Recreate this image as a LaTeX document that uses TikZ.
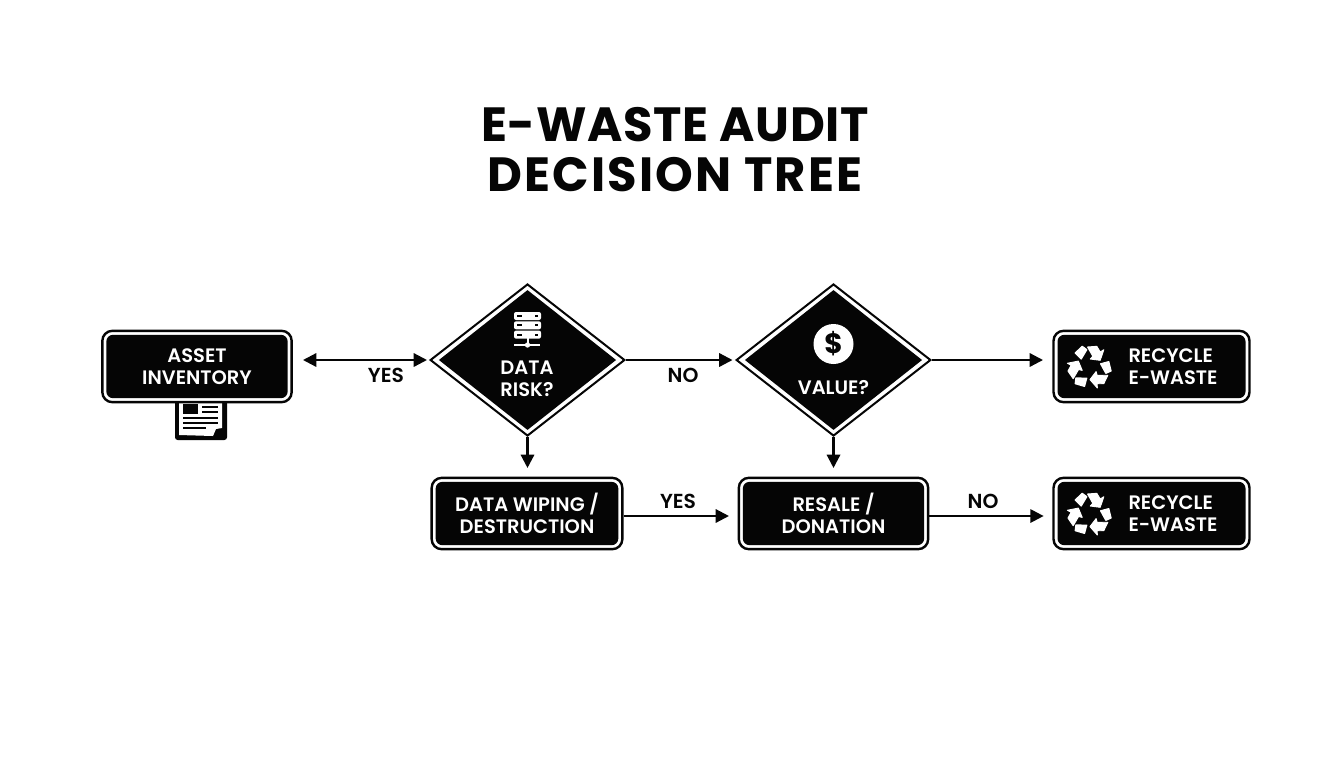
\documentclass[tikz,border=0pt]{standalone}
\usepackage{fontspec}
\setmainfont{Poppins}[BoldFont={Poppins SemiBold}]
\newfontfamily\titlefont{Poppins}[BoldFont={Poppins Bold}]
\usetikzlibrary{shapes.geometric,arrows.meta}
\definecolor{ink}{HTML}{050505}
\tikzset{x=0.75pt,y=-0.75pt,
  boxouter/.style={rectangle,rounded corners=7.5pt,draw=ink,fill=white,line width=1.8pt,minimum width=#1,minimum height=53.5pt,inner sep=0pt},
  boxinner/.style={rectangle,rounded corners=5pt,fill=ink,text=white,minimum width=#1,minimum height=47.5pt,inner sep=0pt,align=center,font=\fontsize{14.6}{16.5}\selectfont\bfseries},
  dmouter/.style={diamond,draw=ink,fill=white,line width=1.5pt,minimum width=146pt,minimum height=114pt,inner sep=0pt,aspect=1.28},
  dminner/.style={diamond,fill=ink,minimum width=133pt,minimum height=105pt,inner sep=0pt,aspect=1.28},
  dmtext/.style={text=white,align=center,font=\fontsize{14.6}{16.5}\selectfont\bfseries,inner sep=0pt},
  lab/.style={text=ink,inner sep=0pt,font=\fontsize{15.2}{16}\selectfont\bfseries},
  conn/.style={draw=ink,line width=1.7pt,-{Triangle[length=10pt,width=10pt]}},
  conn2/.style={draw=ink,line width=1.7pt,{Triangle[length=10pt,width=10pt]}-{Triangle[length=10pt,width=10pt]}}
}
\newcommand{\recyc}[2]{%
  \foreach \a in {0,120,240}{
    \filldraw[white,line width=0.9pt,line join=round,shift={(#1,#2)},rotate=\a]
      (-14.3,-14) -- (-7.3,-20.7) -- (-2.7,-17.3) -- (-8.3,-8) -- cycle;
    \filldraw[white,line width=0.7pt,line join=round,shift={(#1,#2)},rotate=\a]
      (-2,-20) -- (7.3,-20.7) -- (10.7,-15) -- (14.3,-17.3) -- (10.7,-6.7) -- (0.7,-8) -- (3.3,-10.7) -- cycle;
  }}
\begin{document}
\begin{tikzpicture}
\useasboundingbox (0,0) rectangle (1344,768);
\fill[white] (0,0) rectangle (1344,768);
\node[text=ink,inner sep=0pt,align=center,font=\titlefont\fontsize{36}{37.5}\selectfont\bfseries] (title) at (675,150) {{\addfontfeature{LetterSpace=1.4}E-WASTE AUDIT}\\{\addfontfeature{LetterSpace=4.6}DECISION TREE}};
% document icon
\fill[ink,rounded corners=2pt] (175,395) rectangle (227,440);
\fill[white] (179,399) -- (222,399) -- (222,428) -- (216,429) -- (213,436) -- (179,435) -- cycle;
\fill[ink] (183,404) rectangle (198,414);
\foreach \yy/\xa/\xb in {407/202/218,412/202/218,418/183/218,423/183/218,428/183/206}{\draw[ink,line width=1pt] (\xa,\yy) -- (\xb,\yy);}
% boxes
\node[boxouter=142pt] (asset) at (197,366.5) {};
\node[boxinner=136pt] (assetin) at (197,366.5) {ASSET\\INVENTORY};
\node[boxouter=143pt] (wipe) at (527,513.5) {};
\node[boxinner=137pt] (wipein) at (527,513.5) {DATA WIPING /\\DESTRUCTION};
\node[boxouter=142pt] (resale) at (833.5,513.5) {};
\node[boxinner=136pt] (resalein) at (833.5,513.5) {RESALE /\\DONATION};
\node[boxouter=147pt] (rec1) at (1151.5,366.5) {};
\node[boxinner=141pt] (rec1in) at (1151.5,366.5) {};
\node[boxouter=147pt] (rec2) at (1151.5,513.5) {};
\node[boxinner=141pt] (rec2in) at (1151.5,513.5) {};
\node[dmtext,align=left] (rec1t) at (1173,366.5) {RECYCLE\\E-WASTE};
\node[dmtext,align=left] (rec2t) at (1173,513.5) {RECYCLE\\E-WASTE};
\recyc{1089.5}{367}
\recyc{1089.5}{514}
% diamonds
\node[dmouter] (risk) at (527.5,360) {};
\node[dminner] (riskin) at (527.5,360) {};
\node[dmouter] (value) at (833.5,360) {};
\node[dminner] (valuein) at (833.5,360) {};
\node[dmtext] (risktext) at (527,379) {DATA\\RISK?};
\node[dmtext] (valuetext) at (833.5,387.5) {VALUE?};
\fill[white] (833.5,344) circle (15pt);
\node[text=ink,inner sep=0pt,font=\titlefont\fontsize{21}{21}\selectfont\bfseries] (dollar) at (833.5,344) {\$};
% server icon
\foreach \yy in {312,321.3,330.6}{
  \fill[white,rounded corners=1.5pt] (514,\yy) rectangle (541,\yy+8);
  \fill[ink] (517,\yy+3) rectangle (522,\yy+5);
  \fill[ink] (535,\yy+3) rectangle (538,\yy+5);
}
\fill[white] (526.5,338) rectangle (528.5,345);
\fill[white] (514,344) rectangle (540,345.8);
\fill[white] (527.5,345) circle (2pt);
% connectors
\coordinate (dblL) at (303,360);
\coordinate (dblR) at (427,360);
\draw[conn2] (dblL) -- (dblR);
\draw[conn,shorten >=2pt] (risk.east) -- (value.west);
\coordinate (r1a) at (1043,360);
\draw[conn] (value.east) -- (r1a);
\draw[conn,shorten >=6.5pt] (risk.south) -- (risk.south |- wipe.north);
\draw[conn,shorten >=6.5pt] (value.south) -- (value.south |- resale.north);
\coordinate (w1) at (wipe.east |- 0,516);
\coordinate (w2) at (resale.west |- 0,516);
\coordinate (r1) at (resale.east |- 0,516);
\coordinate (r2) at (rec2.west |- 0,516);
\draw[conn,shorten >=6.5pt] (w1) -- (w2);
\draw[conn,shorten >=6.5pt] (r1) -- (r2);
\node[lab] (l1) at (386,375) {YES};
\node[lab] (l2) at (683,375) {NO};
\node[lab] (l3) at (678,501) {YES};
\node[lab] (l4) at (983,501) {NO};
\end{tikzpicture}
\end{document}
